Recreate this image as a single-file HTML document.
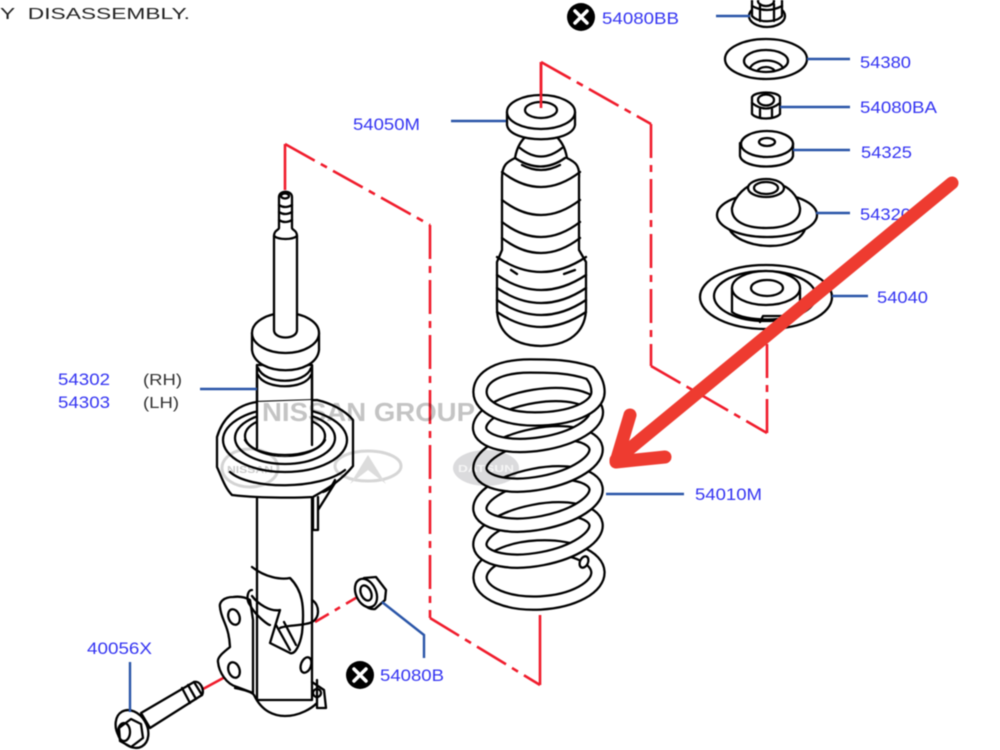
<!DOCTYPE html>
<html><head><meta charset="utf-8"><style>
html,body{margin:0;padding:0;background:#fff;width:1000px;height:750px;overflow:hidden}
svg{display:block;filter:blur(.55px)}
.l{fill:#fff;stroke:#000;stroke-width:2.3;stroke-linejoin:round;stroke-linecap:round}
.n{fill:none;stroke:#000;stroke-width:2.3;stroke-linejoin:round;stroke-linecap:round}
.r{fill:none;stroke:#f01c2c;stroke-width:2.6}
.b{fill:none;stroke:#2a55a8;stroke-width:2.4}
text{font-family:"Liberation Sans",sans-serif}
.t{fill:#3434f2;font-size:17px}
.g{fill:#333;font-size:16px}
</style></head><body>
<svg width="1000" height="750" viewBox="0 0 1000 750" xmlns="http://www.w3.org/2000/svg">
<rect width="1000" height="750" fill="#fff"/>
<text x="0" y="19" font-size="16" fill="#222" textLength="190" lengthAdjust="spacingAndGlyphs">Y&#160;&#160;DISASSEMBLY.</text>

<!-- red phantom lines -->
<g class="r" stroke-dasharray="34 7 7 7">
<path d="M285 144L285 190" stroke-dasharray="none"/>
<path d="M285 144L430 225"/>
<path d="M430 225L430 618"/>
<path d="M430 618L540 685"/>
<path d="M540 685L540 615" stroke-dasharray="none"/>
<path d="M541 62L541 107" stroke-dasharray="none"/>
<path d="M541 62L651 124"/>
<path d="M651 124L651 366"/>
<path d="M651 366L767 433"/>
<path d="M767 433L767 330"/>
<path d="M315 622L366 592" stroke-dasharray="16 7 6 7"/>
<path d="M203 689L238 670" stroke-dasharray="none"/>
</g>

<!-- strut -->
<g>
<path class="l" d="M257 365V425H312V365Z"/>
<path class="l" d="M257 492V700H312V492Z"/>
<path class="l" d="M252 333V350C255 377 316 377 319 350V333Z"/>
<ellipse class="l" cx="285.500" cy="333" rx="33.500" ry="20"/>
<path class="n" d="M258 368C265 385 305 385 311 368M258 375C265 390 305 390 311 375"/>
<path class="l" d="M274 236V330C274 340 297 340 297 330V236Z"/>
<path class="l" d="M274 236C274 230 279 230 279 228V197C279 190 292 190 292 197V228C292 230 297 230 297 236C292 240 279 240 274 236Z"/>
<path class="n" d="M279 205Q285 209 292 205M279 212Q285 216 292 212M279 220Q285 224 292 220"/>
<ellipse class="n" cx="285" cy="196" rx="4" ry="2.500"/>
<!-- seat -->
<path class="l" d="M257 402C235 405 222 420 217 437V467C222 478 225 488 232 495C255 498 295 498 313 497C325 490 340 482 353 466V420C345 410 330 403 317 400Z"/>
<ellipse class="n" cx="285" cy="440" rx="62" ry="32"/>
<ellipse class="n" cx="285" cy="438" rx="50" ry="26"/>
<ellipse class="n" cx="285" cy="436" rx="40" ry="20"/>
<path class="l" d="M257 402V445C262 460 306 460 312 445V400Z" style="stroke:none"/>
<path class="n" d="M257 365V448M312 365V445"/>
<path class="n" d="M230 472C250 490 320 490 345 470M245 440C255 460 315 460 325 440"/>
<path class="n" d="M313 497V530H318V497M318 510L335 483M323 492C330 490 333 484 335 480"/>
<!-- lower bracket -->
<path class="l" d="M250 600C245 597 240 596 233 597C224 597 219 602 220 607C221 620 229 625 230 647C224 652 217 657 218 662C219 672 226 684 237 687L253 693V620Z"/>
<path class="n" d="M252 567C265 577 280 580 290 578C302 590 305 605 302 633C300 645 295 655 290 653L270 643L280 610C270 612 258 604 252 596"/>
<path class="n" d="M252 590C247 590 246 600 250 605C255 615 268 625 270 625M276 625L290 650M284 622L296 645"/>
<path class="n" d="M312 600C320 605 320 618 312 622C305 626 285 625 280 628"/>
<path class="n" d="M235 688C245 690 252 692 254 695C262 712 275 716 285 716C300 716 312 708 317 703M317 680V708L326 708L324 690L312 682"/>
<ellipse class="n" cx="234" cy="617" rx="5.500" ry="8" transform="rotate(-20 234 617)"/>
<ellipse class="n" cx="234" cy="670" rx="5.500" ry="8" transform="rotate(-20 234 670)"/>
<ellipse class="n" cx="306" cy="665" rx="5" ry="8" transform="rotate(20 306 665)"/>
<circle class="n" cx="317" cy="693" r="4"/>
</g>

<!-- bolt -->
<g>
<path class="l" d="M141 713L194 682L202 695L150 728Z"/>
<path class="n" d="M182 688L190 703M188 685L196 699M194 682C200 680 205 690 202 695"/>
<ellipse class="l" cx="132" cy="729" rx="15" ry="20" transform="rotate(-30 132 729)"/>
<path class="l" d="M119 728L131 719L141 724L143 738L131 747L120 741Z"/>
<ellipse class="n" cx="124" cy="732" rx="6" ry="9"/>
</g>

<!-- nut 54080B -->
<path class="l" d="M356 587L364 578L376 577L386 590L385 600L375 609C367 610 358 602 356 587Z"/>
<ellipse class="l" cx="366" cy="593" rx="10" ry="15" transform="rotate(-25 366 593)"/>
<ellipse class="n" cx="366" cy="593" rx="5" ry="8" transform="rotate(-25 366 593)"/>
<circle cx="360" cy="675" r="14" fill="#000"/>
<path d="M354 669L366 681M366 669L354 681" stroke="#fff" stroke-width="3.500" stroke-linecap="round"/>

<!-- bump stop -->
<g>
<path class="l" d="M497 262V308C497 325 505 345 541 346C577 345 586 325 586 308V262L579 250V178C580 165 575 162 567 158C565 146 560 140 555 135H527C522 140 517 146 515 158C507 162 502 165 502 178V250Z"/>
<path class="n" d="M502 172Q541 202 580 172M502 200Q541 230 580 200M502 222Q541 252 580 222M502 238Q541 268 580 238M497 257Q541 287 586 257M497 275Q541 305 586 275M497 288Q541 318 586 288M497 300Q541 330 586 300M497 312Q541 342 586 312M520 148Q541 165 562 148M515 158Q541 175 565 158M522 165Q541 175 560 165M525 132Q541 145 558 132M511 270L517 274M564 274L575 270"/>
<path class="l" d="M507 112V125C510 144 572 144 575 125V112Z"/>
<ellipse class="l" cx="541" cy="112" rx="34" ry="17"/>
<ellipse class="n" cx="541" cy="110" rx="16" ry="8"/>
<path d="M541 62V108" stroke="#f01c2c" stroke-width="2.600"/>
</g>

<!-- spring -->
<g fill="none" stroke="#000" stroke-width="15.500">
<ellipse cx="539" cy="575" rx="59" ry="28" transform="rotate(-3 539 575)"/>
</g>
<g fill="none" stroke="#fff" stroke-width="11">
<ellipse cx="539" cy="575" rx="59" ry="28" transform="rotate(-3 539 575)"/>
</g>
<g fill="none" stroke="#000" stroke-width="15.500">
<ellipse cx="538" cy="535" rx="59" ry="24" transform="rotate(-11 538 535)"/>
</g>
<g fill="none" stroke="#fff" stroke-width="11">
<ellipse cx="538" cy="535" rx="59" ry="24" transform="rotate(-11 538 535)"/>
</g>
<g fill="none" stroke="#000" stroke-width="15.500">
<ellipse cx="538" cy="499" rx="59" ry="24" transform="rotate(-11 538 499)"/>
</g>
<g fill="none" stroke="#fff" stroke-width="11">
<ellipse cx="538" cy="499" rx="59" ry="24" transform="rotate(-11 538 499)"/>
</g>
<g fill="none" stroke="#000" stroke-width="15.500">
<ellipse cx="538" cy="459" rx="59" ry="24" transform="rotate(-11 538 459)"/>
</g>
<g fill="none" stroke="#fff" stroke-width="11">
<ellipse cx="538" cy="459" rx="59" ry="24" transform="rotate(-11 538 459)"/>
</g>
<g fill="none" stroke="#000" stroke-width="15.500">
<ellipse cx="538" cy="420" rx="59" ry="24" transform="rotate(-9 538 420)"/>
</g>
<g fill="none" stroke="#fff" stroke-width="11">
<ellipse cx="538" cy="420" rx="59" ry="24" transform="rotate(-9 538 420)"/>
</g>
<path d="M590 373C570 366 550 366 530 366C500 366 480 376 480 392C480 408 505 419 535 419C570 419 598 408 598 392C598 385 595 378 590 373" fill="none" stroke="#000" stroke-width="15.500" stroke-linecap="round"/>
<path d="M590 373C570 366 550 366 530 366C500 366 480 376 480 392C480 408 505 419 535 419C570 419 598 408 598 392C598 385 595 378 590 373" fill="none" stroke="#fff" stroke-width="11" stroke-linecap="round"/>
<ellipse class="l" cx="584" cy="562" rx="4" ry="6" transform="rotate(25 584 562)"/>

<!-- top-right parts -->
<g>
<ellipse class="l" cx="767" cy="16" rx="18" ry="11"/>
<path class="l" d="M752 -4V16C758 23 776 23 782 16V-4Z"/>
<path class="n" d="M760 4V21M774 4V21M752 6Q767 14 782 6"/>
<ellipse class="n" cx="766" cy="1" rx="8" ry="5"/>

<ellipse class="l" cx="766" cy="59" rx="41" ry="20"/>
<ellipse class="n" cx="766" cy="61" rx="22" ry="11"/>
<path class="n" d="M750 68C755 58 778 58 783 68M758 70C762 66 770 66 774 70"/>

<path class="l" d="M752 97C755 91 777 91 780 97V114C775 120 757 120 752 114Z"/>
<ellipse class="n" cx="766" cy="100" rx="8" ry="5.500"/>
<path class="n" d="M760 109V118M772 109V118M752 103Q766 114 780 103"/>

<path class="l" d="M740 143V156C743 170 790 170 793 156V143Z"/>
<ellipse class="l" cx="767" cy="144" rx="26" ry="13"/>
<ellipse class="n" cx="767" cy="142" rx="8" ry="4"/>

<path class="n" d="M728 226C735 250 800 255 806 226"/>
<ellipse class="l" cx="767" cy="215" rx="50" ry="22"/>
<path class="l" d="M732 208C735 195 747 185 755 184H778C788 186 798 195 800 208C801 222 785 228 766 228C747 228 731 222 732 208Z"/>
<ellipse class="l" cx="766" cy="188" rx="18" ry="9"/>
<ellipse class="n" cx="766" cy="188" rx="12" ry="6"/>

<ellipse class="l" cx="766" cy="297" rx="66" ry="32"/>
<ellipse class="n" cx="765" cy="296" rx="51" ry="25"/>
<path class="l" d="M732 288V312C745 322 790 322 800 312V288Z"/>
<ellipse class="l" cx="766" cy="288" rx="34" ry="17"/>
<ellipse class="n" cx="767" cy="288" rx="16" ry="8"/>
<path class="n" d="M760 322L763 316H785"/>
</g>

<circle cx="581" cy="17" r="14" fill="#000"/>
<path d="M575 11L587 23M587 11L575 23" stroke="#fff" stroke-width="3.500" stroke-linecap="round"/>

<!-- leaders -->
<g class="b">
<path d="M716 16H750"/><path d="M807 59H850"/><path d="M780 107H850"/><path d="M793 150H850"/>
<path d="M816 213H850"/><path d="M832 296H868"/><path d="M451 121H506"/><path d="M200 389H257"/>
<path d="M606 494H684"/><path d="M130 662V712"/><path d="M382 602L424 635V658"/>
</g>

<!-- labels -->
<g class="t">
<text x="602" y="24" textLength="77" lengthAdjust="spacingAndGlyphs">54080BB</text>
<text x="860" y="68" textLength="51" lengthAdjust="spacingAndGlyphs">54380</text>
<text x="860" y="113" textLength="77" lengthAdjust="spacingAndGlyphs">54080BA</text>
<text x="861" y="158" textLength="51" lengthAdjust="spacingAndGlyphs">54325</text>
<text x="860" y="220" textLength="51" lengthAdjust="spacingAndGlyphs">54320</text>
<text x="877" y="303" textLength="51" lengthAdjust="spacingAndGlyphs">54040</text>
<text x="353" y="130" textLength="67" lengthAdjust="spacingAndGlyphs">54050M</text>
<text x="58" y="385" textLength="52" lengthAdjust="spacingAndGlyphs">54302</text>
<text x="58" y="408" textLength="52" lengthAdjust="spacingAndGlyphs">54303</text>
<text x="695" y="500" textLength="67" lengthAdjust="spacingAndGlyphs">54010M</text>
<text x="87" y="654" textLength="65" lengthAdjust="spacingAndGlyphs">40056X</text>
<text x="380" y="681" textLength="64" lengthAdjust="spacingAndGlyphs">54080B</text>
</g>
<text class="g" x="143" y="385" textLength="39" lengthAdjust="spacingAndGlyphs">(RH)</text>
<text class="g" x="143" y="408" textLength="36" lengthAdjust="spacingAndGlyphs">(LH)</text>

<!-- watermark -->
<g style="mix-blend-mode:multiply" opacity=".75">
<text x="262" y="421" font-size="26" font-weight="bold" fill="#b0b0b0" textLength="213" lengthAdjust="spacingAndGlyphs">NISSAN GROUP</text>
<ellipse cx="250" cy="468" rx="28" ry="19" fill="none" stroke="#c4c4c4" stroke-width="3"/>
<text x="227" y="473" font-size="10" font-weight="bold" fill="#bbb" textLength="46" lengthAdjust="spacingAndGlyphs">NISSAN</text>
<ellipse cx="368" cy="466" rx="33" ry="15" fill="none" stroke="#c8c8c8" stroke-width="3"/>
<path d="M350 484L368 455L386 484L368 470Z" fill="#d0d0d0"/>
<ellipse cx="486" cy="468" rx="33" ry="18" fill="#cfcfd2"/>
<text x="458" y="472" font-size="10" font-weight="bold" fill="#f2f2f2" textLength="56" lengthAdjust="spacingAndGlyphs">DATSUN</text>
</g>

<!-- big red arrow -->
<g fill="none" stroke="#ee3b30" stroke-width="13" stroke-linecap="round" stroke-linejoin="round">
<path d="M952 183L616 460"/>
<path d="M630 415L616 462L665 457"/>
</g>
</svg>
</body></html>
